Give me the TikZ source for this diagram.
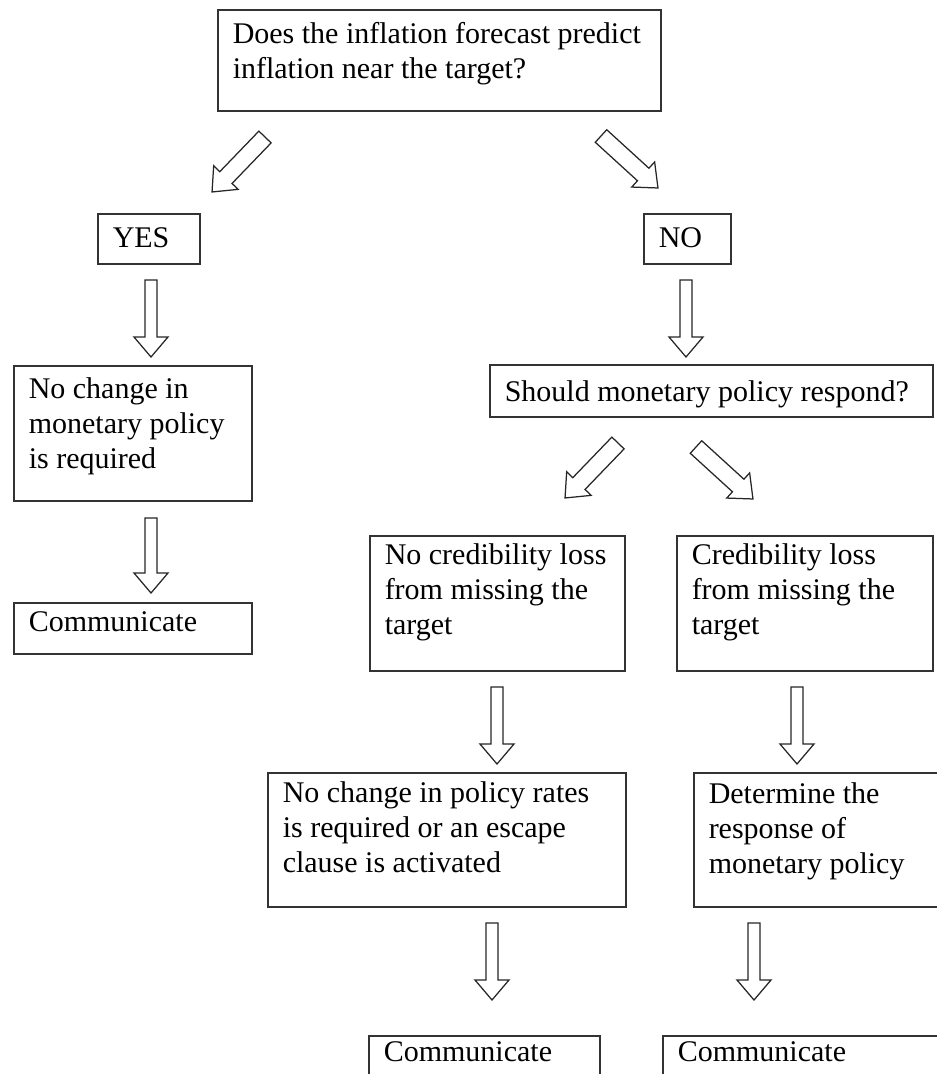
\documentclass[tikz,border=0pt]{standalone}
\usepackage{fontspec}
\setmainfont{Liberation Serif}
\usetikzlibrary{calc}

\tikzset{
  box/.style={draw=black!80, line width=0.6pt, anchor=north west, align=flush left,
    inner xsep=6pt, inner ysep=0pt, font=\fontsize{12pt}{14pt}\selectfont},
  blockarrow/.style={draw=black!85, line width=0.5pt, fill=white, line join=miter}
}

% hollow block arrow from tail #2 to tip #3, shaft width #1 (px)
\newcommand{\blockarrow}[3][12]{%
  \path let \p1=($(#3)-(#2)$) in \pgfextra{%
    \pgfmathsetmacro\arrowang{atan2(\y1,\x1)}%
    \pgfmathsetmacro\arrowlen{veclen(\x1,\y1)}%
    \xdef\arrowang{\arrowang}\xdef\arrowlen{\arrowlen}};
  \begin{scope}[shift={(#2)}, rotate=\arrowang]
    \draw[blockarrow] (0pt,{#1*0.2pt}) -- ({\arrowlen pt-8pt},{#1*0.2pt})
      -- ({\arrowlen pt-8pt},6.8pt) -- ({\arrowlen pt},0pt)
      -- ({\arrowlen pt-8pt},-6.8pt) -- ({\arrowlen pt-8pt},{-#1*0.2pt})
      -- (0pt,{-#1*0.2pt}) -- cycle;
  \end{scope}}

\begin{document}
\begin{tikzpicture}[x=0.4pt, y=-0.4pt]
  % Page frame
  \clip (0,0) rectangle (937,1074);

  % Boxes
  \node[box, text width=165.2pt, text height=13.6pt, text depth=26.8pt] (forecast) at (217,9)
    {\mbox{Does the inflation forecast predict}\\inflation near the target?};
  \node[box, text width=28.8pt, text height=13.6pt, text depth=6.4pt] (yes) at (97,213) {YES};
  \node[box, text width=22.8pt, text height=13.6pt, text depth=6.4pt] (no) at (643,213) {NO};
  \node[box, text width=83.2pt, text height=13.2pt, text depth=40.8pt] (nochange) at (13,365)
    {No change in\\\mbox{monetary policy}\\is required};
  \node[box, text width=83.2pt, text height=11.6pt, text depth=8.8pt] (commleft) at (13,602) {Communicate};
  \node[box, text width=165.2pt, text height=14.8pt, text depth=6pt] (respond) at (489,364)
    {\mbox{Should monetary policy respond?}};
  \node[box, text width=90pt, text height=11.6pt, text depth=42.4pt] (nocred) at (369,535)
    {\mbox{No credibility loss}\\\mbox{from missing the}\\target};
  \node[box, text width=90.4pt, text height=11.6pt, text depth=42.4pt] (cred) at (676,535)
    {Credibility loss\\\mbox{from missing the}\\target};
  \node[box, text width=131.2pt, text height=12pt, text depth=41.6pt] (norates) at (267,772)
    {\mbox{No change in policy rates}\\\mbox{is required or an escape}\\clause is activated};
  \node[box, text width=94.8pt, text height=12.4pt, text depth=41.2pt] (determine) at (693,772)
    {Determine the\\response of\\\mbox{monetary policy}};
  \node[box, text width=80.4pt, text height=10.4pt, text depth=12pt] (commmid) at (368,1035) {Communicate};
  \node[box, text width=108pt, text height=10.4pt, text depth=12pt] (commright) at (662,1035) {Communicate};

  % Arrow ends (tail / tip)
  \foreach \name/\x/\y in {fyT/265/137, fyH/212/192, fnT/601/136, fnH/658/188,
      yesT/151/280, yesH/151/357, noT/686/280, noH/686/357,
      chgT/151/518, chgH/151/593, rnT/618/443, rnH/565/498, rcT/696/447, rcH/753/499,
      nocredT/497/687, nocredH/497/764, credT/797/687, credH/797/764,
      ratesT/492/923, ratesH/492/1000, detT/754/923, detH/754/1000}
    \coordinate (\name) at (\x,\y);

  % Block arrows
  \blockarrow[17]{fyT}{fyH}
  \blockarrow[17]{fnT}{fnH}
  \blockarrow{yesT}{yesH}
  \blockarrow{noT}{noH}
  \blockarrow{chgT}{chgH}
  \blockarrow[17]{rnT}{rnH}
  \blockarrow[17]{rcT}{rcH}
  \blockarrow{nocredT}{nocredH}
  \blockarrow{credT}{credH}
  \blockarrow{ratesT}{ratesH}
  \blockarrow{detT}{detH}
\end{tikzpicture}
\end{document}
